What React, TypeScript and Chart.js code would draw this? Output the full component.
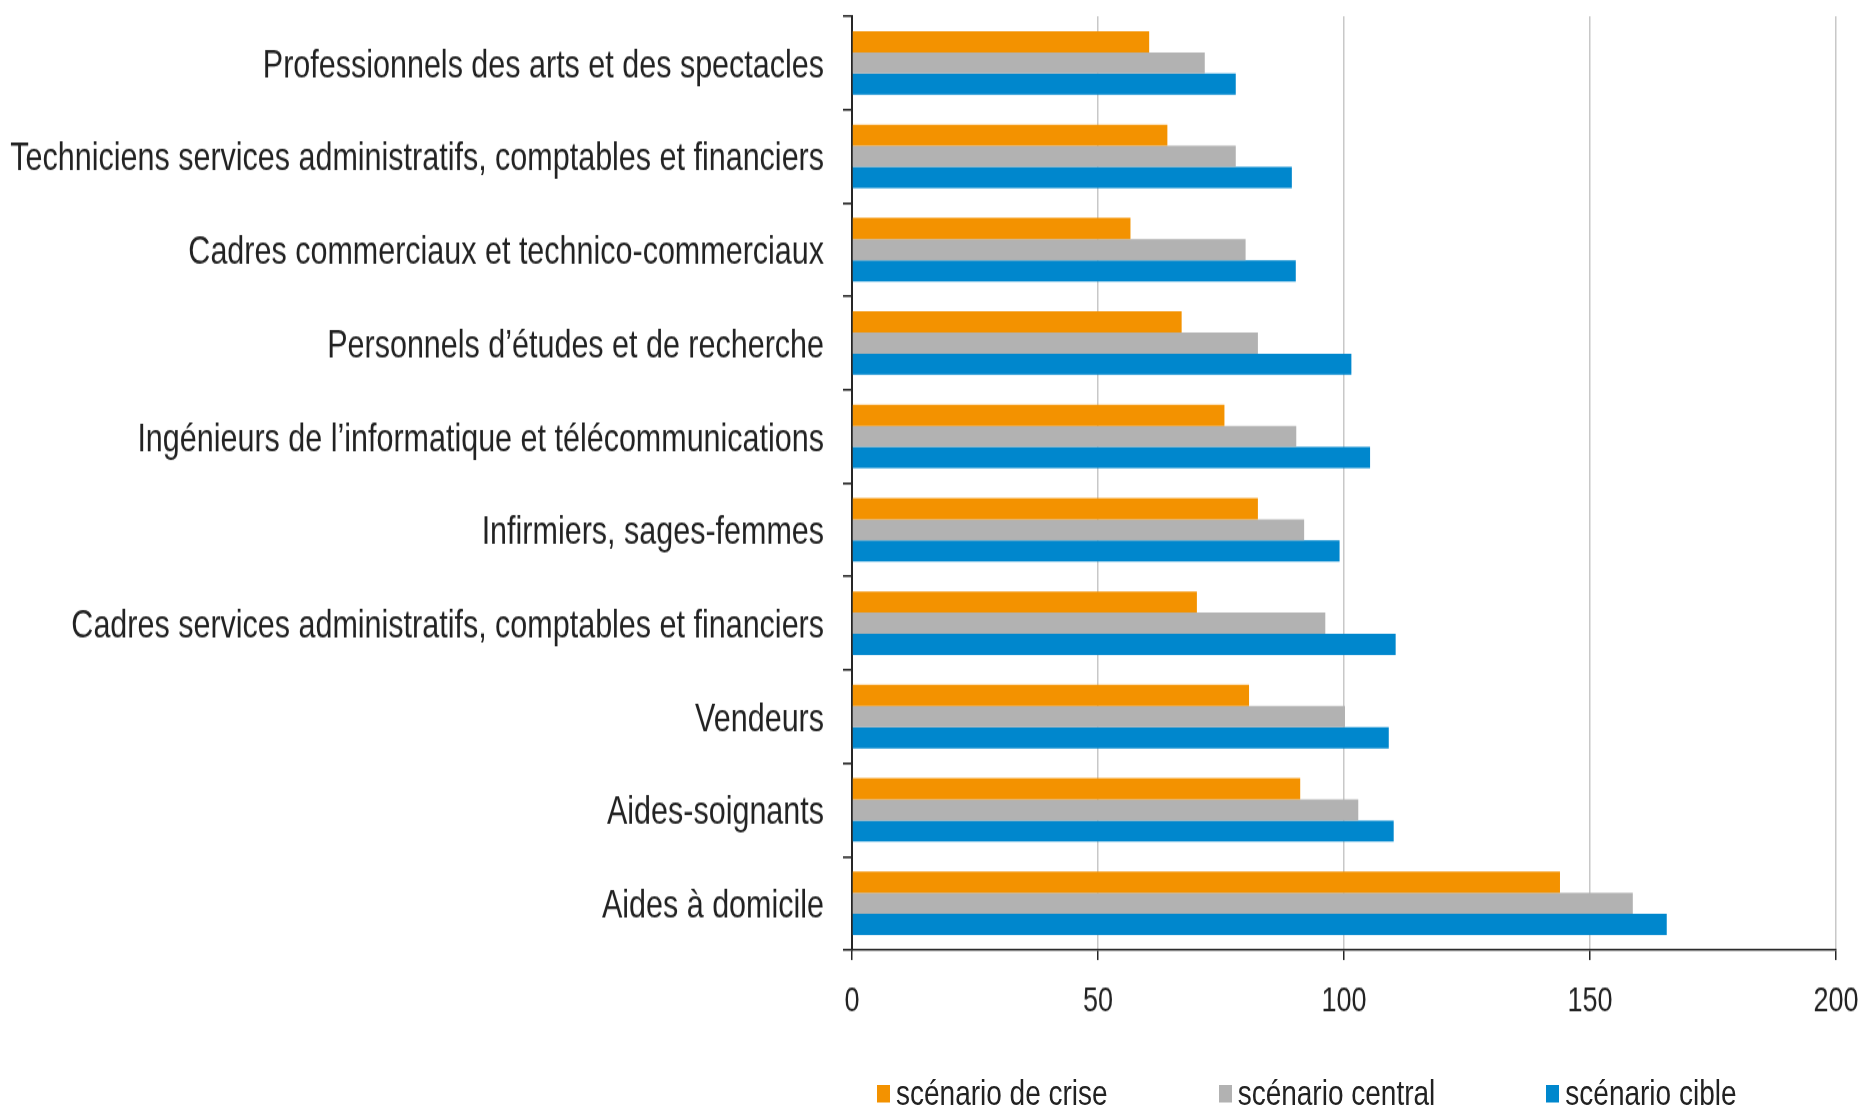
import React, { useEffect, useRef } from "react";
import { Chart, registerables } from "chart.js";

Chart.register(...registerables);

const categories = [
  "Professionnels des arts et des spectacles",
  "Techniciens services administratifs, comptables et financiers",
  "Cadres commerciaux et technico-commerciaux",
  "Personnels d\u2019études et de recherche",
  "Ingénieurs de l\u2019informatique et télécommunications",
  "Infirmiers, sages-femmes",
  "Cadres services administratifs, comptables et financiers",
  "Vendeurs",
  "Aides-soignants",
  "Aides à domicile",
];

const scenarioCrise = [60.4, 64.1, 56.6, 67.0, 75.7, 82.5, 70.1, 80.7, 91.1, 143.9];
const scenarioCentral = [71.7, 78.0, 80.0, 82.5, 90.3, 91.9, 96.2, 100.2, 102.9, 158.7];
const scenarioCible = [78.0, 89.4, 90.2, 101.5, 105.3, 99.1, 110.5, 109.1, 110.1, 165.6];

const seriesNames = ["scénario de crise", "scénario central", "scénario cible"];
const seriesColors = ["#F39200", "#B2B2B2", "#0087CD"];

const xMin = 0;
const xMax = 200;
const xStep = 50;

const FONT = "'Liberation Sans', Arial, sans-serif";
const TEXT_COLOR = "#222222";

// The reference image is vertically stretched: draw at a reduced height and stretch.
const W = 1868;
const H = 1110;
const STRETCH = 1.25;
const HC = Math.round(H / STRETCH);

export default function App() {
  const canvasRef = useRef<HTMLCanvasElement | null>(null);

  useEffect(() => {
    const canvas = canvasRef.current;
    if (!canvas) return;
    const seriesValues = [scenarioCrise, scenarioCentral, scenarioCible];
    const chart = new Chart(canvas, {
      type: "bar",
      data: {
        labels: categories,
        datasets: seriesNames.map((name, i) => ({
          label: name,
          data: seriesValues[i],
          backgroundColor: seriesColors[i],
          borderWidth: 0,
          barPercentage: 1.0,
          categoryPercentage: 0.68,
        })),
      },
      options: {
        indexAxis: "y",
        responsive: false,
        animation: false,
        layout: { padding: { top: 13, right: 32, left: 0, bottom: 0 } },
        plugins: {
          legend: { display: false },
          tooltip: { enabled: false },
        },
        scales: {
          x: {
            min: xMin,
            max: xMax,
            ticks: {
              stepSize: xStep,
              color: TEXT_COLOR,
              font: { family: FONT, size: 27 },
              padding: 17,
            },
            grid: {
              color: "#c8c8c8",
              lineWidth: 1.5,
              tickColor: "#262626",
              tickLength: 8,
              drawTicks: true,
            },
            border: { display: true, color: "#262626", width: 1.6 },
            afterFit: (scale: any) => {
              scale.height = HC - 760;
              scale.paddingLeft = 0;
              scale.paddingRight = 0;
            },
          },
          y: {
            ticks: {
              color: TEXT_COLOR,
              font: { family: FONT, size: 30.5 },
              padding: 19,
              autoSkip: false,
              labelOffset: 3,
            },
            grid: {
              drawOnChartArea: false,
              drawTicks: true,
              tickLength: 9,
              tickColor: "#262626",
              lineWidth: 1.6,
              offset: true,
            },
            border: { display: true, color: "#262626", width: 2 },
            afterFit: (scale: any) => {
              scale.width = 852;
              scale.paddingTop = 0;
              scale.paddingBottom = 0;
            },
          },
        },
      },
    });
    return () => chart.destroy();
  }, []);

  return (
    <div style={{ position: "absolute", left: 0, top: 0, width: W, height: H, background: "#fff", overflow: "hidden" }}>
      <div
        style={{
          position: "absolute",
          left: 0,
          top: 0,
          width: W,
          height: HC,
          transform: `scaleY(${STRETCH})`,
          transformOrigin: "0 0",
        }}
      >
        <canvas ref={canvasRef} width={W} height={HC} style={{ display: "block" }} />
        <div
          style={{
            position: "absolute",
            left: 877,
            top: 859,
            height: 32,
            display: "flex",
            alignItems: "center",
            gap: 111,
            fontFamily: FONT,
            fontSize: 28,
            lineHeight: "32px",
            color: TEXT_COLOR,
            whiteSpace: "nowrap",
          }}
        >
          {seriesNames.map((name, i) => (
            <div key={name} style={{ display: "flex", alignItems: "center" }}>
              <span
                style={{
                  display: "inline-block",
                  width: 13,
                  height: 14,
                  background: seriesColors[i],
                  marginRight: 6,
                }}
              />
              <span>{name}</span>
            </div>
          ))}
        </div>
      </div>
    </div>
  );
}
